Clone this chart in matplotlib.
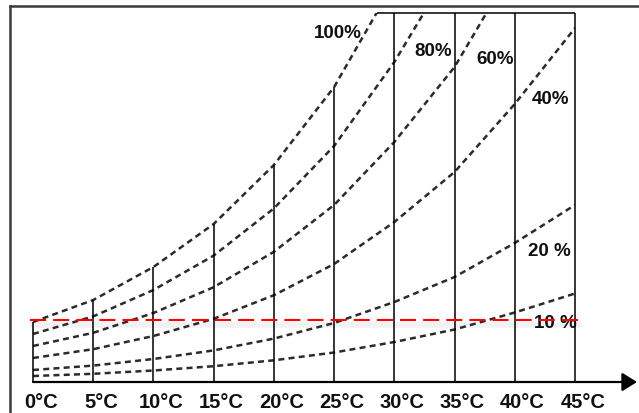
import numpy as np
import matplotlib
matplotlib.use("Agg")
import matplotlib.pyplot as plt
from matplotlib.lines import Line2D

# temperatures on the x axis (deg C)
temps = [0, 5, 10, 15, 20, 25, 30, 35, 40, 45]
# saturation (100 %) level at each temperature (arbitrary units)
sat = [60, 82, 115, 158, 217, 295, 400, 525, 695, 885]
# relative humidity curves
rh_levels = [100, 80, 60, 40, 20, 10]
rh_labels = ["100%", "80%", "60%", "40%", "20 %", "10 %"]
label_pos = [(25.3, 348), (33.2, 330), (38.4, 322), (43.0, 282), (42.9, 131), (43.4, 59)]
# red threshold line
red_level = 62

W, H = 639, 413
top = 369  # chart top (same units as sat)

fig = plt.figure(figsize=(W / 100, H / 100), dpi=100)
ax = fig.add_axes([33 / W, (H - 382) / H, 542 / W, 369 / H])
ax.set_xlim(0, 45)
ax.set_ylim(0, top)
ax.axis("off")

temps_a = np.array(temps)
sat_a = np.array(sat)

# dashed humidity curves
for rh in rh_levels:
    ax.plot(temps_a, sat_a * rh / 100, color="#2b2b2b", lw=1.8,
            linestyle=(0, (2.4, 1.7)), zorder=2)

# vertical temperature lines up to saturation (clipped at top)
ax.vlines(temps_a, 0, np.minimum(sat_a, top), color="black", lw=1.1,
          clip_on=False, zorder=3)
x_top = np.interp(top, sat_a, temps_a)
ax.hlines(top, x_top, 45, color="black", lw=1.1, clip_on=False, zorder=3)

# curve labels
for lab, (lx, ly) in zip(rh_labels, label_pos):
    ax.text(lx, ly, lab, ha="center", va="center", fontsize=13.5,
            fontweight="bold", family="Liberation Sans", color="#111111",
            zorder=4)

# red dashed line with a soft shadow
ax.plot([-0.25, 45.6], [red_level - 5, red_level - 5], color="gray", lw=4,
        alpha=0.1, clip_on=False, zorder=1, solid_capstyle="butt")
ax.plot([-0.25, 45.6], [red_level, red_level], color="red", lw=1.5,
        linestyle=(0, (7.7, 3.4)), clip_on=False, zorder=5)

# x axis arrow
ax.annotate("", xy=(50.15, 0), xytext=(0, 0), annotation_clip=False,
            arrowprops=dict(arrowstyle="-|>,head_length=0.45,head_width=0.28",
                            mutation_scale=20, lw=1.6, color="black",
                            shrinkA=0, shrinkB=0), zorder=6)

# temperature tick labels
for t in temps:
    ax.text(t + 0.65, -20, f"{t}°C", ha="center", va="center", fontsize=14.5,
            fontweight="bold", family="Liberation Sans", color="#111111")

# partial outer frame (left and top)
fig.add_artist(Line2D([10 / W, 10 / W], [0, 1 - 6 / H], transform=fig.transFigure,
                      color="#3a3a3a", lw=1.8))
fig.add_artist(Line2D([10 / W, 1], [1 - 6 / H, 1 - 6 / H], transform=fig.transFigure,
                      color="#3a3a3a", lw=1.8))

fig.savefig("out.png", dpi=100)
